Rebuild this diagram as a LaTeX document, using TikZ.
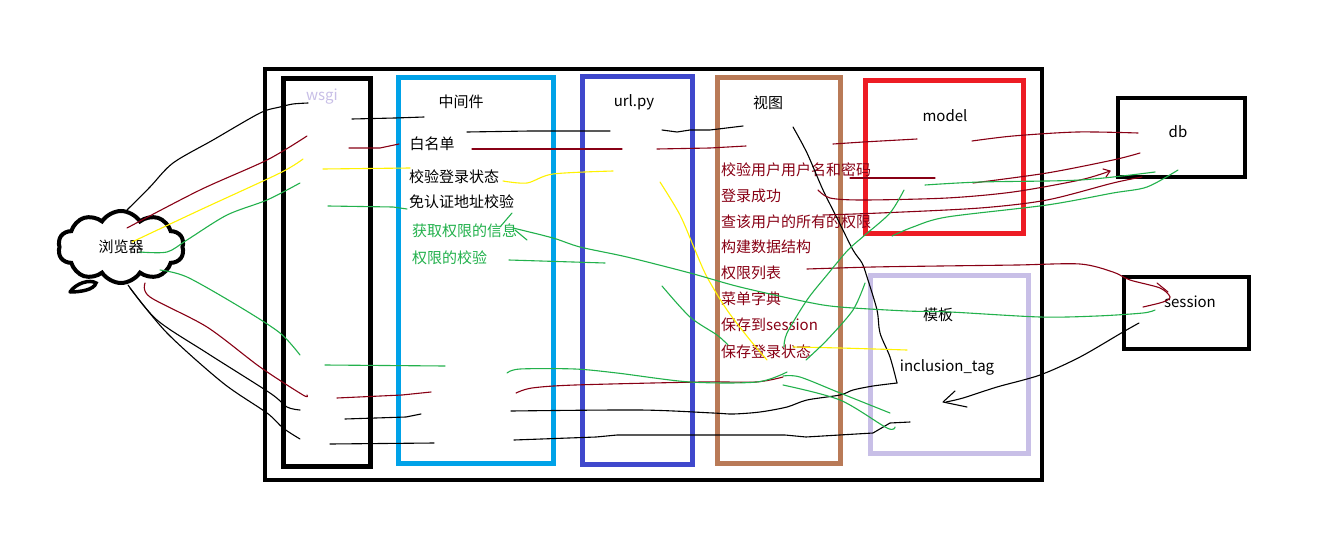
\documentclass[tikz,border=0pt]{standalone}
\usepackage{fontspec}
\setmainfont{Noto Sans CJK SC}
\usetikzlibrary{shapes.symbols}
\definecolor{cyanb}{HTML}{00A2E8}
\definecolor{blueb}{HTML}{3F48CC}
\definecolor{brownb}{HTML}{B97A57}
\definecolor{redb}{HTML}{ED1C24}
\definecolor{lavb}{HTML}{C8BFE7}
\definecolor{dred}{HTML}{880015}
\definecolor{grn}{HTML}{22B14C}
\definecolor{ylw}{HTML}{FFF200}
\begin{document}
\begin{tikzpicture}[x=1pt,y=-1pt,
  frame/.style={line width=#1},
  lbl/.style={inner sep=0pt,font=\fontsize{15}{18}\selectfont},
  lbll/.style={lbl,anchor=west},
  stroke/.style={line width=1.1pt,line join=round,line cap=round},
  sk/.style={stroke,black},
  sr/.style={stroke,dred},
  sy/.style={stroke,ylw},
  sg/.style={stroke,grn}]
\fill[white] (0,0) rectangle (1324,546);
\useasboundingbox (0,0) rectangle (1324,546);

% boxes
\draw[frame=4pt] (265,69) rectangle (1042,480);
\draw[frame=5pt] (283,78) rectangle (370,466);
\draw[frame=5pt,cyanb] (398,77) rectangle (553,463);
\draw[frame=5pt,blueb] (582,76) rectangle (692,464);
\draw[frame=5pt,brownb] (717,77) rectangle (840,463);
\draw[frame=5pt,redb] (865,80) rectangle (1023,233);
\draw[frame=5pt,lavb] (870,275) rectangle (1028,453);
\draw[frame=4.5pt] (1118,98) rectangle (1245,177);
\draw[frame=4.5pt] (1124,277) rectangle (1249,349);

% cloud
\node[cloud, cloud puffs=10, cloud puff arc=115, aspect=1.75, draw, line width=4pt,
      minimum width=126pt, minimum height=72pt, inner sep=0pt, lbl] (brw) at (121,247) {浏览器};
\draw[line width=3.5pt,line cap=round] (70,292) .. controls (76,283) and (90,279) .. (96,283)
   .. controls (94,290) and (80,292) .. (70,292);

% titles
\node[lbl,text=lavb] (twsgi) at (322,97) {wsgi};
\node[lbl] (tmw) at (461,102) {中间件};
\node[lbl] (turl) at (634,102) {url.py};
\node[lbl] (tview) at (768,103) {视图};
\node[lbl] (tmodel) at (945,116) {model};
\node[lbl] (tdb) at (1178,132) {db};
\node[lbl] (tsess) at (1190,302) {session};
\node[lbl] (ttpl) at (938,315) {模板};
\node[lbl] (tinc) at (947,367) {inclusion\_tag};

% middleware items
\node[lbl] (m1) at (432,144) {白名单};
\node[lbll] (m2) at (409,177) {校验登录状态};
\node[lbll] (m3) at (409,202) {免认证地址校验};
\node[lbll,text=grn] (m4) at (412,231) {获取权限的信息};
\node[lbll,text=grn] (m5) at (412,258) {权限的校验};

% view items
\node[lbll,text=dred] (v1) at (721,170) {校验用户用户名和密码};
\node[lbll,text=dred] (v2) at (721,196) {登录成功};
\node[lbll,text=dred] (v3) at (721,222) {查该用户的所有的权限};
\node[lbll,text=dred] (v4) at (721,247) {构建数据结构};
\node[lbll,text=dred] (v5) at (721,273) {权限列表};
\node[lbll,text=dred] (v6) at (721,299) {菜单字典};
\node[lbll,text=dred] (v7) at (721,325) {保存到session};
\node[lbll,text=dred] (v8) at (721,352) {保存登录状态};

% ---- black strokes
\draw[sk] plot[smooth] coordinates {(127,210) (150,187) (173,163) (213,140) (260,113) (280,107) (293,104) (308,103)};
\draw[sk] (352,119) -- (395,118) -- (424,117);
\draw[sk] (467,132) -- (530,131) -- (610,131);
\draw[sk] (662,130) -- (677,132) -- (690,130) -- (710,130) -- (743,126);
\draw[sk] plot[smooth] coordinates {(793,127) (807,153) (823,190) (838,220) (853,250) (862,263) (867,277) (877,310) (880,333) (890,357) (897,383)};
\draw[sk] plot[smooth] coordinates {(897,383) (873,386) (853,390) (840,395) (807,400) (787,407) (760,412) (733,414) (713,413) (640,410) (511,411)};
\draw[sk] (345,419) -- (406,417) -- (421,414);
\draw[sk] (514,440) -- (596,437) -- (617,435) -- (785,435) -- (806,437) -- (873,433) -- (890,423) -- (910,422);
\draw[sk] (330,444) -- (434,443);
\draw[sk] plot[smooth] coordinates {(128,285) (157,320) (207,353) (270,393) (287,407) (300,410)};
\draw[sk] plot[smooth] coordinates {(130,288) (167,333) (223,383) (267,413) (283,428) (300,439)};
\draw[sk] plot[smooth] coordinates {(1139,323) (1123,332) (1080,357) (1040,375) (997,387) (963,398) (946,402)};
\draw[sk] (955,391) -- (943,402) -- (967,407);

% ---- dark red strokes
\draw[sr] plot[smooth] coordinates {(127,228) (200,190) (267,160) (307,136)};
\draw[sr] (349,148) -- (380,148) -- (399,144);
\draw[sr] (472,149) -- (622,149);
\draw[sr] (657,149) -- (710,148) -- (746,146);
\draw[sr] (833,144) -- (863,142) -- (917,139);
\draw[sr] plot[smooth] coordinates {(972,141) (1013,136) (1077,132) (1138,133)};
\draw[sr] (850,178) -- (935,178);
\draw[sr] plot[smooth] coordinates {(973,183) (1047,173) (1113,160) (1140,153)};
\draw[sr] plot[smooth] coordinates {(818,190) (830,198) (863,200) (947,198) (1013,192) (1080,180) (1110,171)};
\draw[sr] (1103,169) -- (1110,171) -- (1106,177);
\draw[sr] plot[smooth] coordinates {(823,215) (880,213) (980,208) (1047,200) (1113,183) (1142,177)};
\draw[sr] plot[smooth] coordinates {(807,269) (873,267) (940,266) (1017,265) (1080,264) (1113,272) (1130,280) (1160,288) (1170,297) (1163,302) (1143,307)};
\draw[sr] (1157,283) -- (1168,292);
\draw[sr] plot[smooth] coordinates {(145,283) (150,297) (207,327) (260,367) (303,395) (307,395)};
\draw[sr] (337,398) -- (402,395) -- (431,392);
\draw[sr] plot[smooth] coordinates {(516,393) (532,388) (575,385) (701,382) (756,382) (783,377)};

% ---- yellow strokes
\draw[sy] plot[smooth] coordinates {(132,242) (200,210) (280,173) (303,159)};
\draw[sy] (323,169) -- (410,168);
\draw[sy] plot[smooth] coordinates {(503,181) (527,183) (553,174) (613,171)};
\draw[sy] plot[smooth] coordinates {(660,182) (680,215) (695,250) (707,277) (727,310) (750,340) (767,360)};
\draw[sy] plot[smooth] coordinates {(793,347) (840,348) (907,350)};

% ---- green strokes
\draw[sg] plot[smooth] coordinates {(140,252) (167,252) (187,240) (227,215) (267,200) (300,183)};
\draw[sg] (328,206) -- (393,207) -- (407,209);
\draw[sg] (512,213) -- (500,227);
\draw[sg] (515,230) -- (527,240);
\draw[sg] plot[smooth] coordinates {(513,228) (553,238) (580,247) (627,257) (690,273) (740,287) (807,302) (840,307) (907,311) (950,312) (1040,317) (1097,316) (1143,313) (1155,310)};
\draw[sg] (509,260) -- (605,263);
\draw[sg] plot[smooth] coordinates {(160,270) (187,277) (240,307) (280,333) (300,355)};
\draw[sg] (325,365) -- (445,366);
\draw[sg] plot[smooth] coordinates {(507,373) (520,369) (575,369) (617,373) (690,382) (757,382) (787,372)};
\draw[sg] plot[smooth] coordinates {(783,376) (800,377) (840,393) (890,413)};
\draw[sg] plot[smooth] coordinates {(783,385) (840,400) (887,428) (895,427)};
\draw[sg] plot[smooth] coordinates {(925,185) (980,182) (1080,180) (1155,172)};
\draw[sg] plot[smooth] coordinates {(892,236) (913,227) (947,217) (1047,205) (1113,193) (1147,187) (1178,170)};
\draw[sg] plot[smooth] coordinates {(904,190) (890,213) (865,235) (848,250) (827,275) (807,300) (787,333) (784,347)};
\draw[sg] plot[smooth] coordinates {(865,283) (853,310) (827,340) (806,360)};
\draw[sg] plot[smooth] coordinates {(662,286) (690,317) (717,335) (728,345)};
\end{tikzpicture}
\end{document}
